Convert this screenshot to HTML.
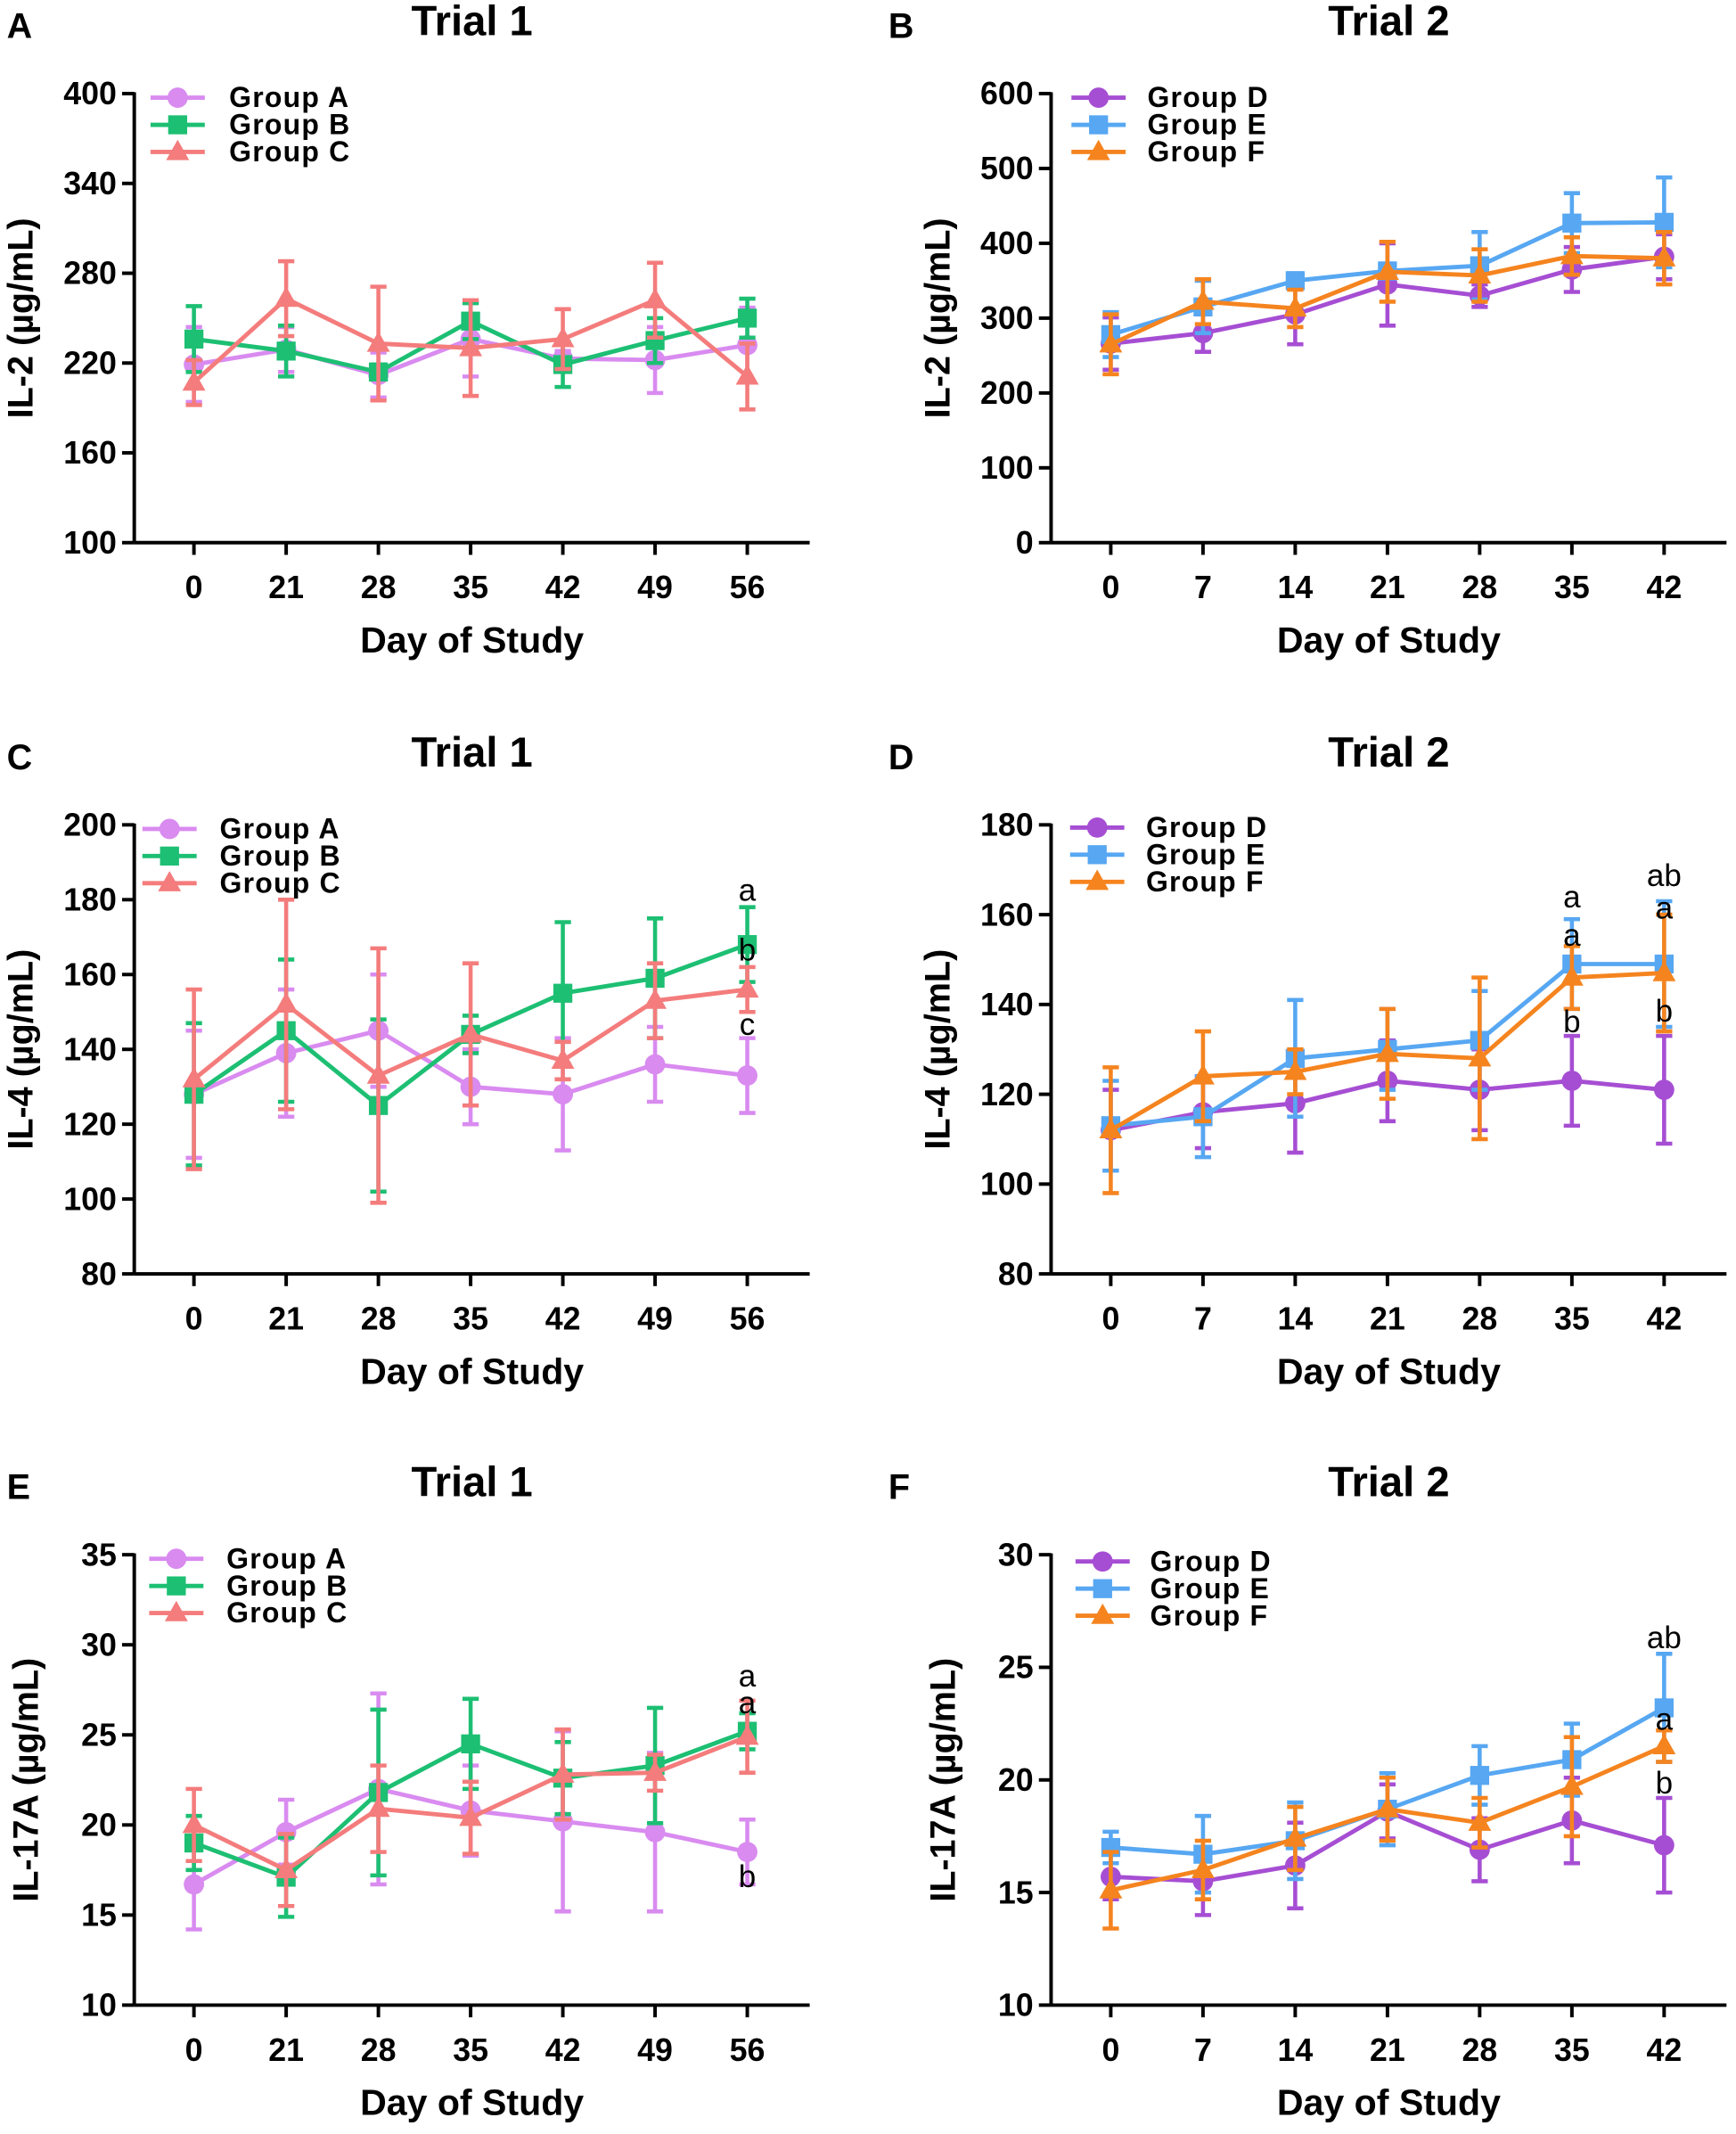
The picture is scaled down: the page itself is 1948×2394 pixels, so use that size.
<!DOCTYPE html>
<html><head><meta charset="utf-8"><style>html,body{margin:0;padding:0;background:#fff}svg{display:block}</style></head>
<body>
<svg id="s" xmlns="http://www.w3.org/2000/svg" width="1948" height="2394" viewBox="0 0 1280 1573" preserveAspectRatio="none" font-family="Liberation Sans, Arial, sans-serif" font-weight="bold"></svg>
<script>
const P='#D98BF0',G='#1DBF73',S='#F47C7C',Dc='#A64ED3',E='#57A7F2',F='#F5841F';
const panels=[
{L:'A',lx:5,ax:99,top:69,bot:400,ymin:100,ymax:400,ticks:[100,160,220,280,340,400],x0:143,xl:['0','21','28','35','42','49','56'],title:'Trial 1',yl:'IL-2 (µg/mL)',ylx:24,leg:[111,169,72],
 s:[[P,'c','Group A',[219,229,212,236,223,222,232],[25,15,15,25,5,22,25]],
    [G,'s','Group B',[236,228,214,248,219,235,250],[22,17,5,12,15,15,13]],
    [S,'t','Group C',[207,263,233,230,236,262,211],[15,25,38,32,20,25,22]]],ann:[]},
{L:'B',lx:655,ax:775,top:69,bot:400,ymin:0,ymax:600,ticks:[0,100,200,300,400,500,600],x0:819,xl:['0','7','14','21','28','35','42'],title:'Trial 2',yl:'IL-2 (µg/mL)',ylx:700,leg:[790,846,72],
 s:[[Dc,'c','Group D',[266,280,305,345,330,365,382],[35,25,40,55,15,30,30]],
    [E,'s','Group E',[278,315,350,363,370,427,428],[30,35,10,10,45,40,60]],
    [F,'t','Group F',[265,322,313,362,357,383,380],[40,30,25,40,35,25,35]]],ann:[]},
{L:'C',lx:5,ax:99,top:608,bot:939,ymin:80,ymax:200,ticks:[80,100,120,140,160,180,200],x0:143,xl:['0','21','28','35','42','49','56'],title:'Trial 1',yl:'IL-4 (µg/mL)',ylx:24,leg:[105,162,611],
 s:[[P,'c','Group A',[128,139,145,130,128,136,133],[17,17,15,10,15,10,10]],
    [G,'s','Group B',[128,145,125,144,155,159,168],[19,19,23,5,19,16,10]],
    [S,'t','Group C',[132,152,133,144,137,153,156],[24,28,34,19,5,10,6]]],
 ann:[[551,664,'a'],[551,708,'b'],[551,763,'c']]},
{L:'D',lx:655,ax:775,top:608,bot:939,ymin:80,ymax:180,ticks:[80,100,120,140,160,180],x0:819,xl:['0','7','14','21','28','35','42'],title:'Trial 2',yl:'IL-4 (µg/mL)',ylx:700,leg:[789,845,610],
 s:[[Dc,'c','Group D',[112,116,118,123,121,123,121],[9,8,11,9,9,10,12]],
    [E,'s','Group E',[113,115,128,130,132,149,149],[10,9,13,9,11,10,14]],
    [F,'t','Group F',[112,124,125,129,128,146,147],[14,10,5,10,18,7,13]]],
 ann:[[1159,669,'a'],[1159,697,'a'],[1159,761,'b'],[1227,653,'ab'],[1227,677,'a'],[1227,753,'b']]},
{L:'E',lx:5,ax:99,top:1146,bot:1478,ymin:10,ymax:35,ticks:[10,15,20,25,30,35],x0:143,xl:['0','21','28','35','42','49','56'],title:'Trial 1',yl:'IL-17A (µg/mL)',ylx:28,leg:[110,167,1149],
 s:[[P,'c','Group A',[16.7,19.6,22,20.8,20.2,19.6,18.5],[2.5,1.8,5.3,2.5,5,4.4,1.8]],
    [G,'s','Group B',[19,17.1,21.8,24.5,22.6,23.3,25.2],[1.5,2.2,4.6,2.5,2,3.2,1]],
    [S,'t','Group C',[20,17.5,20.9,20.4,22.8,22.9,24.9],[2,2,2.4,2,2.5,1,2]]],
 ann:[[551,1243,'a'],[551,1263,'a'],[551,1391,'b']]},
{L:'F',lx:655,ax:775,top:1146,bot:1478,ymin:10,ymax:30,ticks:[10,15,20,25,30],x0:819,xl:['0','7','14','21','28','35','42'],title:'Trial 2',yl:'IL-17A (µg/mL)',ylx:704,leg:[793,848,1151],
 s:[[Dc,'c','Group D',[15.7,15.5,16.2,18.6,16.9,18.2,17.1],[1,1.5,1.9,1.2,1.4,1.9,2.1]],
    [E,'s','Group E',[17,16.7,17.3,18.7,20.2,20.9,23.2],[0.7,1.7,1.7,1.6,1.3,1.6,2.4]],
    [F,'t','Group F',[15.1,16,17.4,18.7,18.1,19.7,21.5],[1.7,1.3,1.4,1.4,1.1,2.2,0.7]]],
 ann:[[1227,1215,'ab'],[1227,1275,'a'],[1227,1322,'b']]}
];
let h='';
function mk(t,x,y,c){
 if(t=='c')return `<circle cx="${x}" cy="${y}" r="7.5" fill="${c}"/>`;
 if(t=='s')return `<rect x="${x-7}" y="${y-7}" width="14" height="14" fill="${c}"/>`;
 return `<polygon points="${x},${y-9} ${x+8.5},${y+6} ${x-8.5},${y+6}" fill="${c}"/>`;
}
for(const p of panels){
 const Y=v=>p.bot-(v-p.ymin)*(p.bot-p.top)/(p.ymax-p.ymin);
 const X=i=>p.x0+i*68;
 h+=`<text x="${p.lx}" y="${p.top-41}" font-size="26">${p.L}</text>`;
 h+=`<text x="${p.ax+249}" y="${p.top-43}" font-size="31" text-anchor="middle">${p.title}</text>`;
 h+=`<text x="${p.ax+249}" y="${p.bot+81}" font-size="27" text-anchor="middle">Day of Study</text>`;
 h+=`<text transform="translate(${p.ylx},${(p.top+p.bot)/2}) rotate(-90)" font-size="26" text-anchor="middle">${p.yl}</text>`;
 for(const [c,m,n,v,e] of p.s){
  v.forEach((val,i)=>{const x=X(i);const a=Y(val+e[i]),b=Y(val-e[i]);
   h+=`<g stroke="${c}" stroke-width="3"><line x1="${x}" y1="${a}" x2="${x}" y2="${b}"/><line x1="${x-6}" y1="${a}" x2="${x+6}" y2="${a}"/><line x1="${x-6}" y1="${b}" x2="${x+6}" y2="${b}"/></g>`;});
  h+=`<polyline fill="none" stroke="${c}" stroke-width="3.2" points="${v.map((val,i)=>X(i)+','+Y(val)).join(' ')}"/>`;
  v.forEach((val,i)=>h+=mk(m,X(i),Y(val),c));
 }
 h+=`<g stroke="#000" stroke-width="2.6" fill="none"><line x1="${p.ax}" y1="${p.top-1}" x2="${p.ax}" y2="${p.bot}"/><line x1="${p.ax}" y1="${p.bot}" x2="${p.ax+498}" y2="${p.bot}"/>`;
 for(const t of p.ticks)h+=`<line x1="${p.ax-9}" y1="${Y(t)}" x2="${p.ax}" y2="${Y(t)}"/>`;
 for(let i=0;i<7;i++)h+=`<line x1="${X(i)}" y1="${p.bot}" x2="${X(i)}" y2="${p.bot+9}"/>`;
 h+=`</g>`;
 for(const t of p.ticks)h+=`<text x="${p.ax-13}" y="${Y(t)+8}" font-size="23.5" text-anchor="end">${t}</text>`;
 for(let i=0;i<7;i++)h+=`<text x="${X(i)}" y="${p.bot+41}" font-size="23.5" text-anchor="middle">${p.xl[i]}</text>`;
 p.s.forEach(([c,m,n],k)=>{const y=p.leg[2]+k*20;const lx=p.leg[0];
  h+=`<line x1="${lx}" y1="${y}" x2="${lx+40}" y2="${y}" stroke="${c}" stroke-width="3.2"/>`+mk(m,lx+20,y,c);
  h+=`<text x="${p.leg[1]}" y="${y+7}" font-size="21" letter-spacing="0.8">${n}</text>`;});
 for(const [x,y,t] of p.ann)h+=`<text x="${x}" y="${y}" font-size="23" font-weight="normal" text-anchor="middle">${t}</text>`;
}
document.getElementById('s').innerHTML=h;
</script>
</body></html>
